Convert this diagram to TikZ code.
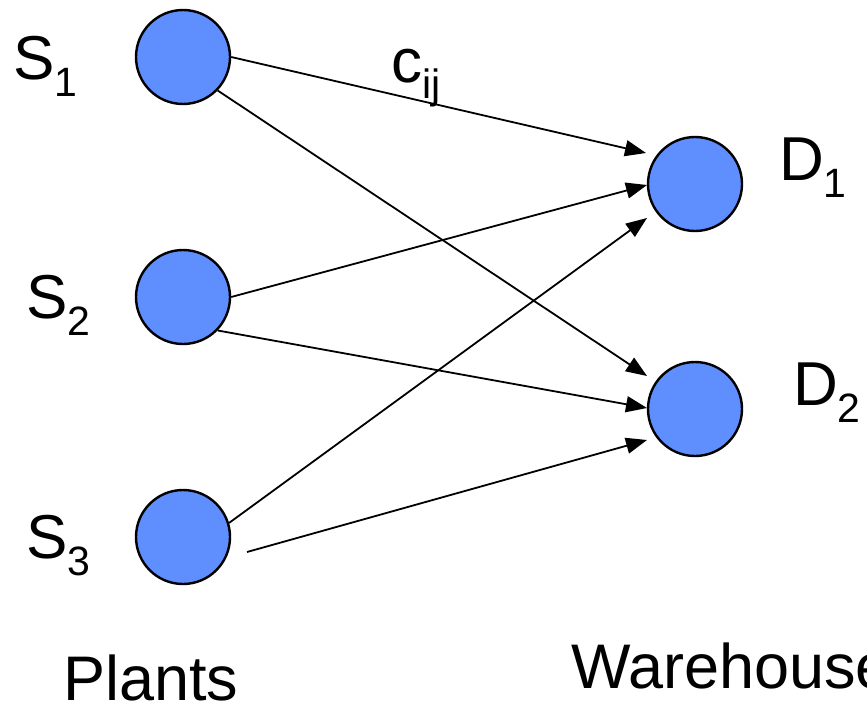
\documentclass[tikz,border=0pt]{standalone}
\usepackage{fontspec}
\setmainfont{Liberation Sans}
\usetikzlibrary{arrows.meta,calc}
\definecolor{nodeblue}{RGB}{95,142,255}
\newcommand{\subtxt}[1]{\lower17pt\hbox{\fontsize{41}{41}\selectfont #1}}
\begin{document}
\begin{tikzpicture}[x=1pt,y=-1pt,
  site/.style={circle,draw=black,line width=2.4pt,fill=nodeblue,minimum size=94pt,inner sep=0pt},
  flow/.style={line width=1.8pt,-{Triangle[length=21pt,width=16pt]}},
  lbl/.style={anchor=base west,inner sep=0pt,font=\fontsize{62}{62}\selectfont},
  grouplbl/.style={anchor=base west,inner sep=0pt,font=\fontsize{63}{63}\selectfont}
]
\useasboundingbox (0,0) rectangle (867,709);
\clip (0,0) rectangle (867,709);
\node[site] (S1) at (183,57) {};
\node[site] (S2) at (183,297) {};
\node[site] (S3) at (183,537) {};
\node[site] (D1) at (695,184) {};
\node[site] (D2) at (695,409) {};
\draw[flow] (S1.east) -- ($(D1.center)+(-49,-31)$);
\draw[flow] (S1.-44) -- ($(D2.center)+(-48,-33)$);
\draw[flow] (S2.east) -- ($(D1.center)+(-48,1)$);
\draw[flow] (S2.-44) -- ($(D2.center)+(-48,-1)$);
\draw[flow] (S3.17) -- ($(D1.center)+(-48,34)$);
\draw[flow] ($(S3.center)+(64,15)$) -- ($(D2.center)+(-48,31)$);
\node[lbl] (LS1) at (13,80) {S\subtxt{1}};
\node[lbl] (LS2) at (26,318) {S\subtxt{2}};
\node[lbl] (LS3) at (26,558) {S\subtxt{3}};
\node[lbl] (LD1) at (779,180) {D\subtxt{1}};
\node[lbl] (LD2) at (793,405) {D\subtxt{2}};
\node[lbl] (LC) at (391,82) {c\subtxt{ij}};
\node[grouplbl] (LP) at (63,700) {Plants};
\node[grouplbl] (LW) at (571,688) {Warehouse};
\end{tikzpicture}
\end{document}
